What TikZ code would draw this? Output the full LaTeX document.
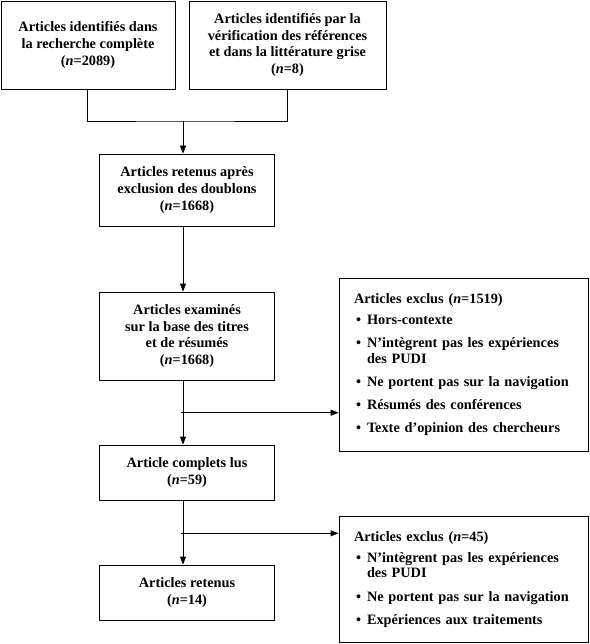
\documentclass[tikz,border=0pt]{standalone}
\usepackage{fontspec}
\setmainfont{Liberation Serif}
\usetikzlibrary{arrows.meta}
\newcommand{\exitem}[1]{\par\vspace{7.5pt}\hangindent=13pt\hangafter=1\noindent\hspace*{2pt}\makebox[11pt][l]{\textbullet}#1}
\begin{document}
\begin{tikzpicture}[x=1pt,y=-1pt,
  box/.style={draw, line width=0.8pt, align=center, inner sep=0pt,
    font=\bfseries\fontsize{14.3}{16.6}\selectfont},
  excl/.style={draw, line width=0.8pt, align=left, text width=219pt, inner xsep=15pt, inner ysep=0pt,
    font=\bfseries\fontsize{14.3}{15.7}\selectfont},
  arr/.style={line width=0.8pt, -{Triangle[length=8pt,width=6pt]}},
  ln/.style={line width=0.8pt}]
\useasboundingbox (0,0) rectangle (589,644);
\node[box, minimum width=174pt, minimum height=88pt] (b1) at (88,45)
  {Articles identifiés dans\\la recherche complète\\(\textit{n}=2089)};
\node[box, minimum width=197pt, minimum height=88pt] (b2) at (287.5,45)
  {Articles identifiés par la\\vérification des références\\et dans la littérature grise\\(\textit{n}=8)};
\node[box, minimum width=175pt, minimum height=72pt] (b3) at (187,190)
  {Articles retenus après\\exclusion des doublons\\(\textit{n}=1668)};
\node[box, minimum width=175pt, minimum height=88pt] (b4) at (187,336)
  {Articles examinés\\sur la base des titres\\et de résumés\\(\textit{n}=1668)};
\node[box, minimum width=175pt, minimum height=55pt] (b5) at (187,472.5)
  {Article complets lus\\(\textit{n}=59)};
\node[box, minimum width=175pt, minimum height=55pt] (b6) at (187,592.5)
  {Articles retenus\\(\textit{n}=14)};
\node[excl, minimum width=249pt, minimum height=172.7pt] (e1) at (463.5,364.7)
  {Articles exclus (\textit{n}=1519)\vspace{-2pt}
   \exitem{Hors-contexte}
   \exitem{N’intègrent pas les expériences des PUDI}
   \exitem{Ne portent pas sur la navigation}
   \exitem{Résumés des conférences}
   \exitem{Texte d’opinion des chercheurs}};
\node[excl, minimum width=249pt, minimum height=126.7pt] (e2) at (463.5,579.3)
  {Articles exclus (\textit{n}=45)\vspace{-2pt}
   \exitem{N’intègrent pas les expériences des PUDI}
   \exitem{Ne portent pas sur la navigation}
   \exitem{Expériences aux traitements}};
\coordinate (mid) at (183,121);
\coordinate (br1) at (181,412.7);
\coordinate (br2) at (181,533.3);
\draw[ln] (b1.south -| 87.5,0) |- (mid) -| (b2.south);
\draw[arr] (mid) -- (b3.north -| mid);
\draw[arr] (b3.south -| mid) -- (b4.north -| mid);
\draw[arr] (b4.south -| mid) -- (b5.north -| mid);
\draw[arr] (b5.south -| mid) -- (b6.north -| mid);
\draw[arr] (br1) -- (e1.west |- br1);
\draw[arr] (br2) -- (e2.west |- br2);
\end{tikzpicture}
\end{document}
